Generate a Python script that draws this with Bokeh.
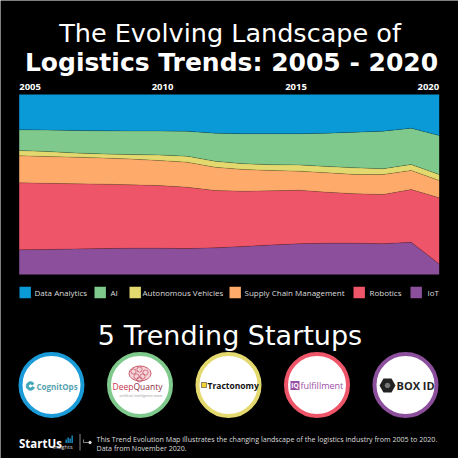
from bokeh.plotting import figure
from bokeh.models import Range1d, ColumnDataSource
from bokeh.core.properties import value
from bokeh.embed import file_html
from bokeh.resources import INLINE

# ---------------- data ----------------
years = list(range(2005, 2021))
data_analytics = [19.6, 19.8, 20.0, 20.2, 20.3, 20.3, 20.4, 21.5, 21.8, 21.8, 21.8, 21.5, 20.9, 20.4, 18.7, 22.8]
ai = [11.5, 11.9, 12.5, 12.8, 13.1, 13.3, 13.9, 15.6, 16.7, 17.2, 17.3, 18.5, 19.8, 20.9, 20.2, 21.7]
autonomous_vehicles = [2.9, 2.8, 2.3, 2.3, 2.5, 3.1, 3.3, 3.3, 3.2, 3.2, 3.5, 3.5, 3.7, 3.2, 3.3, 3.3]
supply_chain = [15.0, 14.9, 14.8, 14.5, 14.3, 13.9, 13.9, 12.9, 12.1, 11.3, 10.6, 10.8, 10.7, 11.1, 10.6, 9.6]
robotics = [37.2, 36.8, 36.2, 35.8, 35.2, 34.8, 34.1, 31.8, 30.7, 30.1, 29.7, 28.3, 27.4, 27.4, 29.3, 36.7]
iot = [13.7, 13.9, 14.2, 14.4, 14.6, 14.6, 14.4, 14.8, 15.6, 16.4, 17.1, 17.4, 17.4, 17.1, 17.9, 5.9]

series_names = ["Data Analytics", "AI", "Autonomous Vehicles", "Supply Chain Management", "Robotics", "IoT"]
series_colors = ["#0a9ad8", "#7ec98b", "#e3d96f", "#fdaa6b", "#ee5568", "#8b4f9c"]
year_labels = ["2005", "2010", "2015", "2020"]

startups = ["CognitOps", "DeepQuanty", "Tractonomy", "fulfillment", "BOX ID"]
ring_colors = ["#1a9bd8", "#7ec98b", "#e3d96f", "#ee5568", "#8b4f9c"]

title1 = "The Evolving Landscape of"
title2 = "Logistics Trends: 2005 - 2020"
subtitle = "5 Trending Startups"
footer1 = "This Trend Evolution Map illustrates the changing landscape of the logistics industry from 2005 to 2020."
footer2 = "Data from November 2020."

# ---------------- layout (page pixel geometry) ----------------
W = H = 458
OFF = 8
chart_left, chart_right = 26.7, 446.7
chart_top, chart_bottom = 102.0, 282.0
ppy = (chart_right - chart_left) / (years[-1] - years[0])
ppp = (chart_bottom - chart_top) / 100.0
x0 = years[0] - (chart_left - OFF) / ppy
x1 = x0 + W / ppy
y0 = -(OFF + H - chart_bottom) / ppp
y1 = y0 + H / ppp

p = figure(width=W, height=H, output_backend="svg", toolbar_location=None,
           x_range=Range1d(x0, x1), y_range=Range1d(y0, y1),
           x_axis_location=None, y_axis_location=None, min_border=0)
p.extra_x_ranges = {"px": Range1d(OFF, OFF + W)}
p.extra_y_ranges = {"py": Range1d(OFF + H, OFF)}
p.background_fill_color = "black"
p.border_fill_color = "black"
p.outline_line_color = None
p.xgrid.visible = False
p.ygrid.visible = False

PX = dict(x_range_name="px", y_range_name="py")
FONT = value("Open Sans")
TFONT = value("DejaVu Sans")

# ---------------- stacked area ----------------
cols = {"year": years}
raw = [data_analytics, ai, autonomous_vehicles, supply_chain, robotics, iot]
keys = ["da", "ai", "av", "scm", "rob", "iot"]
for i in range(len(years)):
    tot = sum(r[i] for r in raw)
    for k, r in zip(keys, raw):
        cols.setdefault(k, []).append(r[i] * 100.0 / tot)
stack_keys = keys[::-1]
stack_colors = series_colors[::-1]
cum = [0.0] * len(years)
for k in stack_keys[:-1]:
    cum = [c + v for c, v in zip(cum, cols[k])]
    cols["cum_" + k] = list(cum)
src = ColumnDataSource(cols)
p.varea_stack(stackers=stack_keys, x="year", color=stack_colors, source=src)
for k in stack_keys[:-1]:
    p.line(x="year", y="cum_" + k, color="#000000", alpha=0.22, line_width=0.8, source=src)

# year labels
ylab_y = 94
aligns = ["left", "center", "center", "right"]
offs = [0, 3.3, -3.2, 0]
for lab, al, off in zip(year_labels, aligns, offs):
    p.text(x=[int(lab)], y=[ylab_y], text=[lab], text_align=al, text_baseline="middle",
           x_offset=off, text_font=FONT, text_font_style="bold", text_font_size="9.5px",
           text_color="white", y_range_name="py")

# ---------------- titles ----------------
p.text(x=[237.5], y=[40], text=[title1], text_align="center", text_baseline="alphabetic",
       text_font=TFONT, text_font_size="25.5px", text_color="white", **PX)
p.text(x=[239], y=[70], text=[title2], text_align="center", text_baseline="alphabetic",
       text_font=TFONT, text_font_style="bold", text_font_size="25px", text_color="white", **PX)

# ---------------- legend ----------------
sq_left = [27, 102, 137, 237, 361, 418]
txt_left = [42, 118, 150, 252, 377, 435]
leg_y = 300
p.rect(x=[s + 5.7 for s in sq_left], y=[leg_y] * 6, width=11.4, height=11.4,
       fill_color=series_colors, line_color=None, **PX)
p.text(x=txt_left, y=[leg_y] * 6, text=series_names, text_align="left", text_baseline="middle",
       text_font=FONT, text_font_size="8px", text_color="#dddddd", **PX)

# ---------------- startups ----------------
p.text(x=[237.5], y=[343], text=[subtitle], text_align="center", text_baseline="alphabetic",
       text_font=TFONT, text_font_size="27px", text_color="white", **PX)

cx = [59, 147.5, 236, 324.5, 413]
cy = 392.5
p.circle(x=cx, y=[cy] * 5, radius=31, fill_color="white", line_color=ring_colors,
         line_width=4, **PX)

# CognitOps
p.annular_wedge(x=[38], y=[393.5], inner_radius=2.0, outer_radius=4.2, start_angle=0.6,
                end_angle=5.9, color="#3fa7b8", **PX)
p.text(x=[44], y=[393.5], text=[startups[0]], text_baseline="middle", text_font=FONT,
       text_font_style="bold", text_font_size="8px", text_color="#55a3b2", **PX)
# DeepQuanty
p.ellipse(x=[147.5], y=[381], width=22, height=15, fill_color="#f6d3d8", line_color="#c65a6a",
          line_width=1, **PX)
p.circle(x=[141, 147, 153, 144, 150, 147], y=[379, 377, 380, 384, 384, 387], radius=2.6,
         fill_color=None, line_color="#c65a6a", line_width=0.8, **PX)
p.text(x=[141], y=[394], text=["Deep"], text_align="right", text_baseline="middle",
       text_font=FONT, text_font_size="8.5px", text_color="#c8374d", **PX)
p.text(x=[141], y=[394], text=["Quanty"], text_align="left", text_baseline="middle",
       text_font=FONT, text_font_size="8.5px", text_color="#8e2b3d", **PX)
p.text(x=[148.5], y=[402.5], text=["artificial intelligence team"], text_align="center",
       text_baseline="middle", text_font=FONT, text_font_size="3.6px", text_color="#999999", **PX)
# Tractonomy
p.rect(x=[211.5], y=[392.5], width=5, height=5, fill_color="#f0d232", line_color="#222222",
       line_width=0.5, **PX)
p.text(x=[215], y=[392.5], text=[startups[2]], text_baseline="middle", text_font=FONT,
       text_font_style="bold", text_font_size="8.5px", text_color="#111111", **PX)
# IQ fulfillment
p.rect(x=[302.5], y=[393], width=9, height=9, fill_color="#9a4fa6", line_color=None, **PX)
p.text(x=[302.5], y=[393], text=["IQ"], text_align="center", text_baseline="middle",
       text_font=FONT, text_font_style="bold", text_font_size="6.5px", text_color="white", **PX)
p.text(x=[308], y=[393], text=[startups[3]], text_baseline="middle", text_font=FONT,
       text_font_size="9px", text_color="#9a4fa6", **PX)
# BOX ID
p.scatter(x=[395], y=[393], marker="hex", size=16, fill_color="#222222", line_color=None, **PX)
p.scatter(x=[395], y=[393], marker="hex", size=6, fill_color="#777777", line_color=None, **PX)
p.text(x=[404], y=[393], text=[startups[4]], text_baseline="middle", text_font=FONT,
       text_font_style="bold", text_font_size="11px", text_color="#222222", **PX)

# ---------------- footer ----------------
p.text(x=[26.5], y=[451], text=["StartUs"], text_baseline="alphabetic", text_font=FONT,
       text_font_style="bold", text_font_size="11.5px", text_color="white", **PX)
p.quad(left=[73, 75, 77, 79], right=[74.3, 76.3, 78.3, 80.3],
       bottom=[450.5] * 4, top=[447, 445, 446, 443], fill_color="#1a9bd8", line_color=None, **PX)
p.text(x=[80], y=[454.5], text=["insights"], text_align="right", text_baseline="middle",
       text_font=FONT, text_font_size="5.5px", text_color="#dddddd", **PX)
p.segment(x0=[87.5], y0=[441.5], x1=[87.5], y1=[458], line_color="#aaaaaa", line_width=0.8, **PX)
p.segment(x0=[91], y0=[447], x1=[91], y1=[450], line_color="#aaaaaa", line_width=0.8, **PX)
p.segment(x0=[91], y0=[450], x1=[96], y1=[450], line_color="#aaaaaa", line_width=0.8, **PX)
p.scatter(x=[97.5], y=[450], size=2.5, color="#dddddd", **PX)
p.text(x=[104, 104], y=[446, 455], text=[footer1, footer2], text_baseline="middle",
       text_font=FONT, text_font_size="7.1px", text_color="#dddddd", **PX)

open("out.html", "w").write(file_html(p, INLINE))
